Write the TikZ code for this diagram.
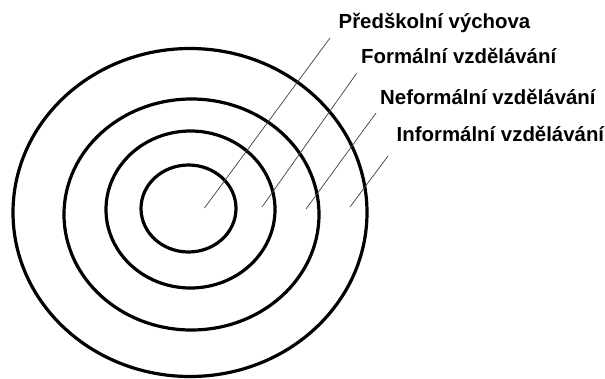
\documentclass[tikz,border=0pt]{standalone}
\usepackage{fontspec}
\setmainfont{Liberation Sans}
\begin{document}
\begin{tikzpicture}[x=1pt,y=-1pt,
  ring/.style={line width=3.2pt, draw=black},
  leader/.style={line width=0.7pt, draw=black!75},
  lbl/.style={anchor=base west, inner sep=0pt, font=\fontsize{20.4pt}{23pt}\selectfont\bfseries}]
\useasboundingbox[fill=white] (0,0) rectangle (605,378);
% rings
\draw[ring] (190,212.5) ellipse [x radius=177pt, y radius=164pt];
\draw[ring] (191.5,214.5) ellipse [x radius=127.5pt, y radius=115.5pt];
\draw[ring] (190.5,209.5) ellipse [x radius=84.5pt, y radius=78.5pt];
\draw[ring] (188.5,208.5) ellipse [x radius=47.5pt, y radius=43.5pt];
% labels
\node[lbl] (t1) at (338.5,28.5) {Předškolní výchova};
\node[lbl] (t2) at (361,63) {Formální vzdělávání};
\node[lbl] (t3) at (380,104.2) {Neformální vzdělávání};
\node[lbl] (t4) at (396.5,141) {Informální vzdělávání};
% leader ends
\coordinate (a1) at (330,38);   \coordinate (b1) at (204.5,208);
\coordinate (a2) at (356.5,73.5); \coordinate (b2) at (262,207);
\coordinate (a3) at (376,113);  \coordinate (b3) at (306,209);
\coordinate (a4) at (388,156);  \coordinate (b4) at (350,207);
\draw[leader] (a1) -- (b1);
\draw[leader] (a2) -- (b2);
\draw[leader] (a3) -- (b3);
\draw[leader] (a4) -- (b4);
\end{tikzpicture}
\end{document}
